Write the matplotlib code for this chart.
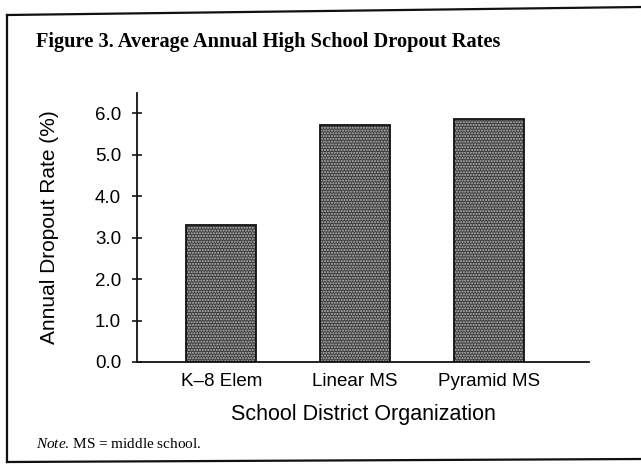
import numpy as np
import matplotlib.pyplot as plt
from matplotlib.lines import Line2D

plt.rcParams['mathtext.fontset'] = 'custom'
plt.rcParams['mathtext.it'] = 'Liberation Serif:italic'
plt.rcParams['mathtext.rm'] = 'Liberation Serif'

# средний годовой процент отсева по типам организации округа
groups = ['K\u20138 Elem', 'Linear MS', 'Pyramid MS']
rates = [3.3, 5.7, 5.85]
yticks = [0.0, 1.0, 2.0, 3.0, 4.0, 5.0, 6.0]

fig = plt.figure(figsize=(6.41, 4.68), dpi=100)
ax = fig.add_axes([0.2137, 0.2265, 0.7053, 0.5745])

x = np.arange(len(groups))
# заливка столбцов точечным узором, затем чёрный контур
ax.bar(x, rates, width=0.52, color='#3a3a3a', hatch='......', edgecolor='#bdbdbd', linewidth=0)
ax.bar(x, rates, width=0.52, fill=False, edgecolor='#111111', linewidth=1.3)

ax.set_xlim(-0.63, 2.75)
ax.set_ylim(0, 6.48)
ax.set_yticks(yticks)
ax.set_yticklabels(['%.1f' % v for v in yticks], fontsize=13.5, family='Liberation Sans')
ax.set_xticks(x)
ax.set_xticklabels(groups, fontsize=13.5, family='Liberation Sans')
ax.tick_params(axis='y', direction='inout', length=7, width=1.1, pad=8)
ax.tick_params(axis='x', length=0, pad=8)
for s in ['top', 'right']:
    ax.spines[s].set_visible(False)
for s in ['left', 'bottom']:
    ax.spines[s].set_linewidth(1.3)
    ax.spines[s].set_color('#111111')

ax.set_ylabel('Annual Dropout Rate (%)', fontsize=15, family='Liberation Sans', labelpad=26)
ax.set_xlabel('School District Organization', fontsize=15.5, family='Liberation Sans', labelpad=10)

fig.text(36 / 641, 1 - 47 / 468, 'Figure 3. Average Annual High School Dropout Rates',
         fontsize=14.7, family='Liberation Serif', fontweight='bold', va='baseline')
fig.text(36 / 641, 1 - 448 / 468, '$\\it{Note}$. MS = middle school.',
         fontsize=11, family='Liberation Serif', va='baseline')

# рамка вокруг рисунка
W, H = 641, 468
frame = [((7, 15), (641, 7)), ((7, 15), (7, 462)), ((7, 462), (641, 459))]
for (x0, y0), (x1, y1) in frame:
    fig.add_artist(Line2D([x0 / W, x1 / W], [1 - y0 / H, 1 - y1 / H],
                          transform=fig.transFigure, color='#111111', linewidth=1.6))

fig.savefig('out.png', dpi=100)
